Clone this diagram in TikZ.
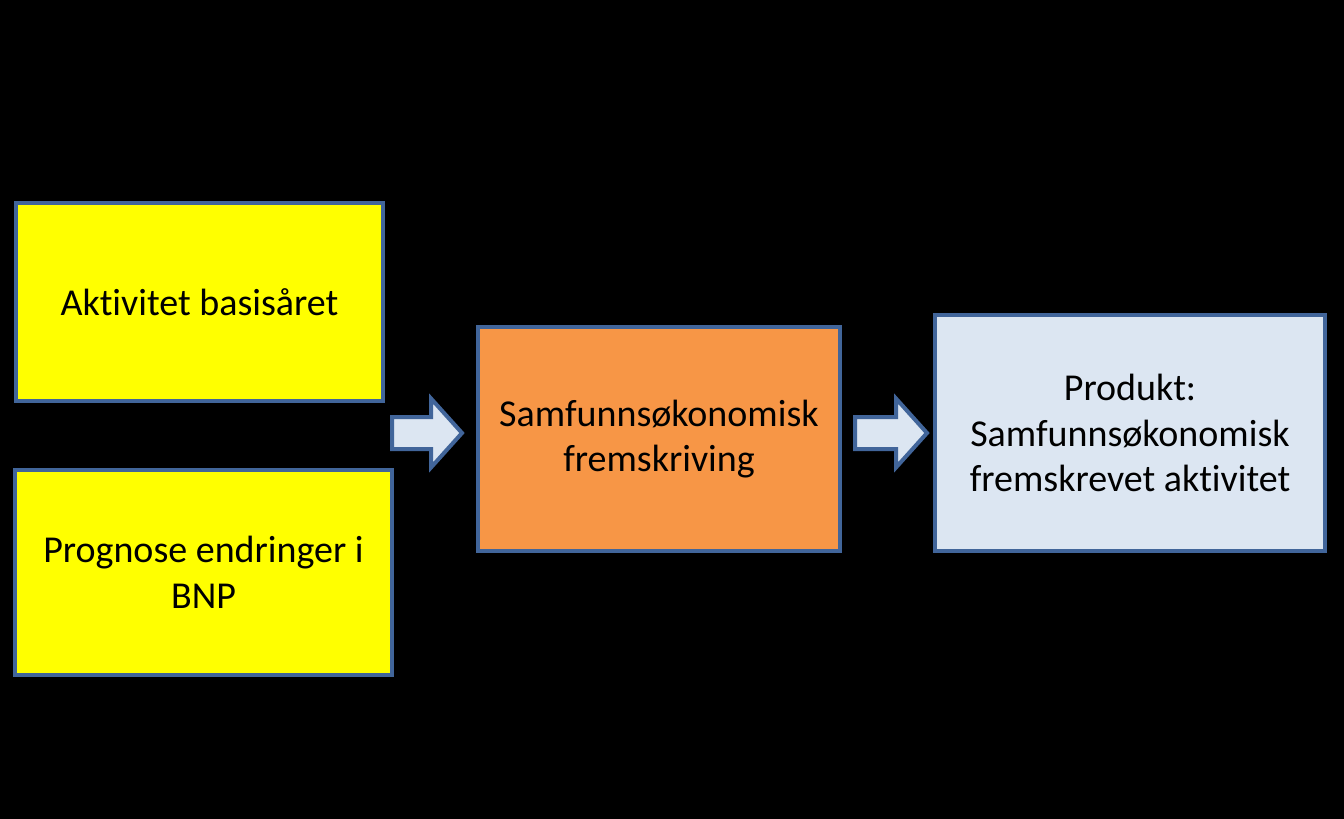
\documentclass[tikz,border=0pt]{standalone}
\usepackage{fontspec}
\setmainfont[Ligatures=NoCommon]{Carlito}
\definecolor{rand}{HTML}{41659A}
\definecolor{lysbla}{HTML}{DCE6F2}
\definecolor{oransje}{HTML}{F79646}
\definecolor{gul}{HTML}{FFFF00}
\tikzset{
  boks/.style={draw=rand, line width=4pt, align=center, inner sep=0pt,
    font=\fontsize{38pt}{45.5pt}\selectfont},
  blokkpil/.pic={
    \draw[draw=rand, line width=4pt, fill=lysbla, line join=miter]
      (0,-16) -- (#1-31,-16) -- (#1-31,-34.5) -- (#1,0) -- (#1-31,34.5)
      -- (#1-31,16) -- (0,16) -- cycle;
  }
}
\begin{document}
\begin{tikzpicture}[x=1pt,y=-1pt]
\fill[black] (0,0) rectangle (1344,819);
%inndata
\node[boks, fill=gul, minimum width=367pt, minimum height=198pt] (basis) at (199.5,302) {Aktivitet basisåret};
\node[boks, fill=gul, minimum width=377pt, minimum height=205pt] (bnp) at (203.5,572.5) {Prognose endringer i\\BNP};
%fremskriving
\node[boks, fill=oransje, minimum width=362pt, minimum height=224pt] (frem) at (659,439) {Samfunnsøkonomisk\\fremskriving};
%produkt
\node[boks, fill=lysbla, minimum width=390pt, minimum height=236pt] (produkt) at (1130,433) {Produkt:\\Samfunnsøkonomisk\\fremskrevet aktivitet};
%piler
\coordinate (pil1) at (392,433);
\coordinate (pil2) at (855,433);
\pic at (pil1) {blokkpil=70};
\pic at (pil2) {blokkpil=72};
\end{tikzpicture}
\end{document}
